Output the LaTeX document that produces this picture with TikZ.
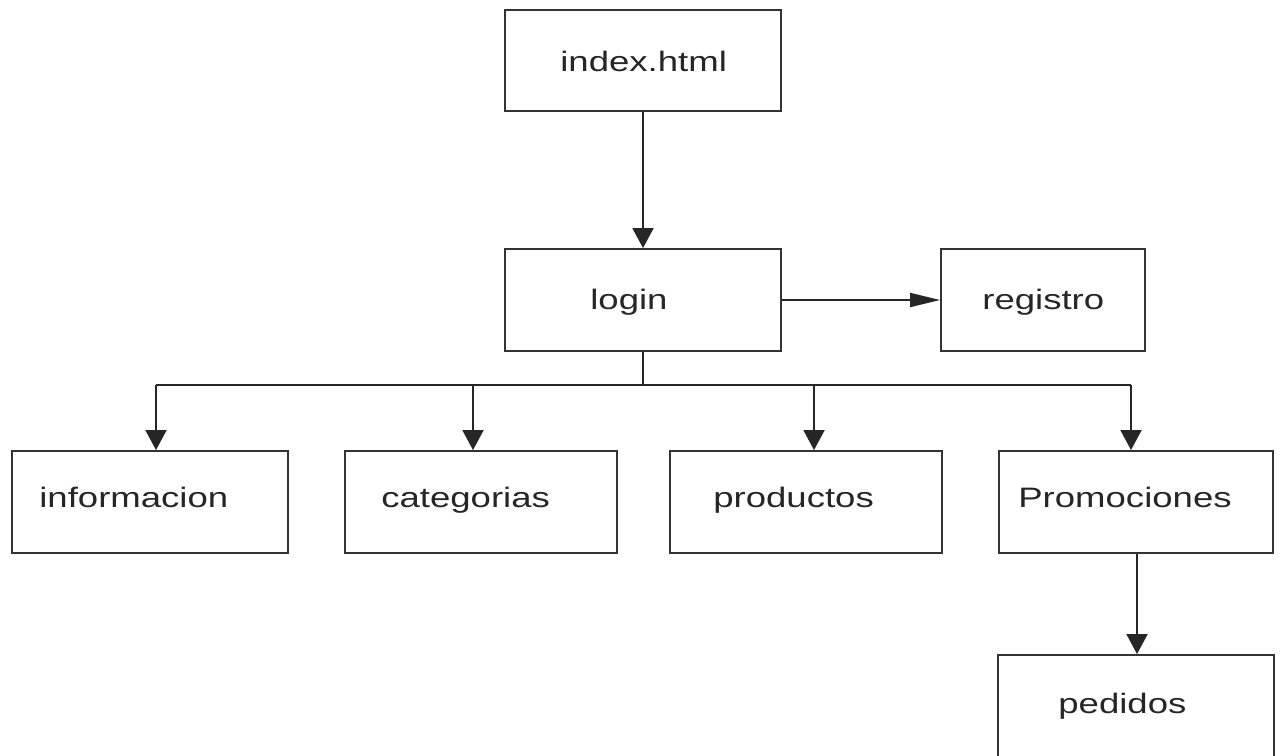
\documentclass[tikz,border=0pt]{standalone}
\usepackage{fontspec}
\setmainfont{Liberation Sans}[FakeStretch=1.3]
\usetikzlibrary{arrows.meta}
\begin{document}
\begin{tikzpicture}[x=0.02cm,y=-0.02cm,
  box/.style={draw=black!80, line width=1.1pt, inner sep=0pt, minimum height=2.04cm},
  lbl/.style={anchor=base west, inner sep=0pt, font=\fontsize{16}{19}\selectfont, text=black!85},
  conn/.style={draw=black!85, line width=1.1pt},
  arr/.style={conn, -{Triangle[length=0.4cm,width=0.42cm]}},
  harr/.style={conn, -{Triangle[length=0.6cm,width=0.28cm]}}]
\useasboundingbox (0,0) rectangle (1284,755);
\clip (0,0) rectangle (1284,755);
% boxes
\node[box, minimum width=5.52cm, minimum height=2.02cm] (index) at (643,60.5) {};
\node[box, minimum width=5.52cm] (login) at (643,300) {};
\node[box, minimum width=4.08cm] (registro) at (1043,300) {};
\node[box, minimum width=5.52cm] (informacion) at (150,502) {};
\node[box, minimum width=5.44cm] (categorias) at (481,502) {};
\node[box, minimum width=5.44cm] (productos) at (806,502) {};
\node[box, minimum width=5.48cm] (promociones) at (1136,502) {};
\node[box, minimum width=5.52cm] (pedidos) at (1136,706) {};
% labels
\node[lbl] (tindex) at (560,71) {index.html};
\node[lbl] (tlogin) at (590,309) {login};
\node[lbl] (tregistro) at (982,309) {registro};
\node[lbl] (tinformacion) at (39,507) {informacion};
\node[lbl] (tcategorias) at (381,507) {categorias};
\node[lbl] (tproductos) at (713,507) {productos};
\node[lbl] (tpromociones) at (1018,507) {Promociones};
\node[lbl] (tpedidos) at (1058,713) {pedidos};
% connectors
\draw[arr] (index) -- (login);
\draw[harr] (login) -- (registro);
\coordinate (b1) at (156,385);
\coordinate (b2) at (473,385);
\coordinate (b3) at (814,385);
\coordinate (b4) at (1131,385);
\draw[conn] (login.south) -- (login.south |- b1);
\draw[conn] (b1) -- (b4);
\draw[arr] (b1) -- (b1 |- informacion.north);
\draw[arr] (b2) -- (b2 |- categorias.north);
\draw[arr] (b3) -- (b3 |- productos.north);
\draw[arr] (b4) -- (b4 |- promociones.north);
\coordinate (p1) at (1137,0);
\draw[arr] (p1 |- promociones.south) -- (p1 |- pedidos.north);
\end{tikzpicture}
\end{document}
